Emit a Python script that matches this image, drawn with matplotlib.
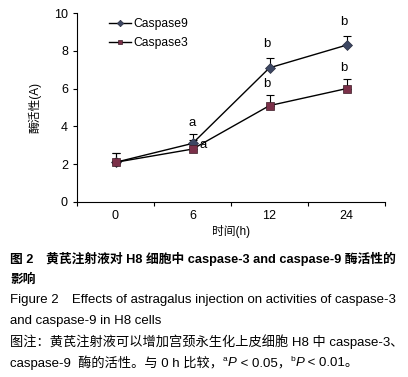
import numpy as np
import matplotlib as mpl
mpl.use('Agg')
import matplotlib.pyplot as plt

# data
times = ['0', '6', '12', '24']
casp9 = [2.1, 3.1, 7.1, 8.3]
casp9_err = [0.5, 0.5, 0.5, 0.5]
casp3 = [2.1, 2.8, 5.1, 6.0]
casp3_err = [0.5, 0.5, 0.55, 0.5]
casp9_sig = ['', 'a', 'b', 'b']
casp3_sig = ['', 'a', 'b', 'b']

fonts = ['Liberation Sans', 'Noto Sans CJK SC', 'DejaVu Sans']
plt.rcParams['font.family'] = fonts
plt.rcParams['font.size'] = 8.5

fig = plt.figure(figsize=(4.08, 3.77), dpi=100)
ax = fig.add_axes([77/408, 1 - 202/377, 308/408, 189/377])

x = np.arange(len(times))
ax.errorbar(x, casp9, yerr=[np.zeros(4), casp9_err], fmt='none', ecolor='black',
            elinewidth=0.8, capsize=3, capthick=0.8, zorder=2)
ax.errorbar(x, casp3, yerr=[np.zeros(4), casp3_err], fmt='none', ecolor='black',
            elinewidth=0.8, capsize=3, capthick=0.8, zorder=2)
ax.plot(x, casp9, color='black', lw=1, marker='D', ms=5.5, mfc='#3d4763',
        mec='#2a2f40', mew=0.5, label='Caspase9', zorder=3)
ax.plot(x, casp3, color='black', lw=1, marker='s', ms=6, mfc='#7b3049',
        mec='#3a1a24', mew=0.5, label='Caspase3', zorder=3)

# significance letters
for i in range(len(times)):
    if casp9_sig[i]:
        if i == 1:
            ax.text(x[i], casp9[i] + casp9_err[i] + 0.6, casp9_sig[i], ha='center', va='center', fontsize=9.5)
        else:
            ax.text(x[i] - 0.03, casp9[i] + casp9_err[i] + 0.75, casp9_sig[i], ha='center', va='center', fontsize=9.5)
    if casp3_sig[i]:
        if i == 1:
            ax.text(x[i] + 0.14, casp3[i] + 0.2, casp3_sig[i], ha='center', va='center', fontsize=9.5)
        else:
            ax.text(x[i] - 0.03, casp3[i] + casp3_err[i] + 0.6, casp3_sig[i], ha='center', va='center', fontsize=9.5)

ax.set_xlim(-0.5, 3.5)
ax.set_ylim(0, 10)
ax.set_yticks(range(0, 11, 2))
ax.set_xticks(x)
ax.set_xticklabels(times)
ax.set_xticks(np.arange(-0.5, 4, 1), minor=True)
ax.tick_params(axis='x', which='major', length=0, pad=6, labelsize=9)
ax.tick_params(axis='x', which='minor', length=3, direction='out', width=0.8)
ax.tick_params(axis='y', length=3, direction='out', width=0.8, labelsize=9)
for s in ['top', 'right']:
    ax.spines[s].set_visible(False)
for s in ['left', 'bottom']:
    ax.spines[s].set_linewidth(0.8)

ax.set_xlabel('时间(h)', fontsize=8.5, labelpad=2)
ax.set_ylabel('酶活性(A)', fontsize=8.5)
ax.yaxis.set_label_coords(-0.115, 0.5)

ax.legend(loc='upper left', bbox_to_anchor=(0.07, 1.03), frameon=False,
          fontsize=8.7, handlelength=1.8, handletextpad=0.15, labelspacing=0.6,
          markerscale=0.6)

# caption
cap = dict(fontsize=9.5, family=fonts, va='center', ha='left')
fig.text(10/408, 1 - 259/377, '图 2　黄芪注射液对 H8 细胞中 caspase-3 and caspase-9 酶活性的',
         weight='bold', **dict(cap, fontsize=9.2))
fig.text(10/408, 1 - 280/377, '影响', weight='bold', **dict(cap, fontsize=9.2))
fig.text(10/408, 1 - 300/377, 'Figure 2　Effects of astragalus injection on activities of caspase-3', **cap)
fig.text(10/408, 1 - 321/377, 'and caspase-9 in H8 cells', **cap)
fig.text(10/408, 1 - 342/377, '图注：黄芪注射液可以增加宫颈永生化上皮细胞 H8 中 caspase-3、', **cap)

# last line assembled piece by piece for superscripts and italic P
fig.canvas.draw()
r = fig.canvas.get_renderer()
pieces = [('caspase-9  酶的活性。与 0 h 比较，', {}),
          ('a', {'fontsize': 6, 'va': 'bottom'}),
          ('P', {'style': 'italic'}),
          (' < 0.05，', {}),
          ('b', {'fontsize': 6, 'va': 'bottom'}),
          ('P', {'style': 'italic'}),
          (' < 0.01。', {})]
xpos = 10
ymid = 1 - 363/377
for txt, kw in pieces:
    p = dict(cap)
    p.update(kw)
    yy = ymid if p['va'] == 'center' else ymid + 0.001
    t = fig.text(xpos/408, yy, txt, **p)
    bb = t.get_window_extent(renderer=r)
    xpos += bb.width

fig.savefig('out.png', dpi=100)
